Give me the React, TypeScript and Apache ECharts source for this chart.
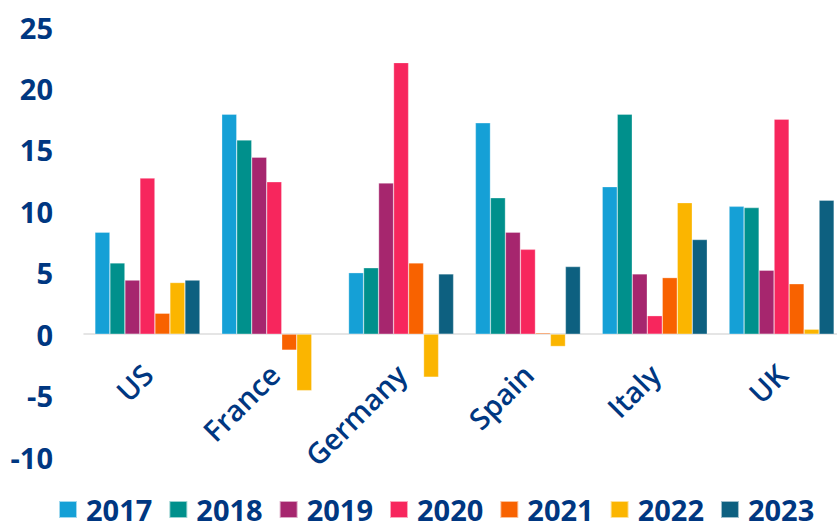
import React, { useEffect, useRef } from "react";
import * as echarts from "echarts";

const countries = ["US", "France", "Germany", "Spain", "Italy", "UK"];
const years = ["2017", "2018", "2019", "2020", "2021", "2022", "2023"];
const v2017 = [8.3, 17.9, 5.0, 17.2, 12.0, 10.4];
const v2018 = [5.8, 15.8, 5.4, 11.1, 17.9, 10.3];
const v2019 = [4.4, 14.4, 12.3, 8.3, 4.9, 5.2];
const v2020 = [12.7, 12.4, 22.1, 6.9, 1.5, 17.5];
const v2021 = [1.7, -1.3, 5.8, 0.1, 4.6, 4.1];
const v2022 = [4.2, -4.6, -3.5, -1.0, 10.7, 0.4];
const v2023 = [4.4, null, 4.9, 5.5, 7.7, 10.9];
const yTicks = [-10, -5, 0, 5, 10, 15, 20, 25];
const colors = ["#15a0d6", "#00908c", "#a6266e", "#f7265d", "#f86200", "#fbb500", "#0d6080"];

const seriesValues = [v2017, v2018, v2019, v2020, v2021, v2022, v2023];
const textColor = "#003781";
const font = "'Open Sans', Lato, 'Noto Sans', sans-serif";

export default function App() {
  const ref = useRef<HTMLDivElement>(null);
  useEffect(() => {
    if (!ref.current) return;
    const chart = echarts.init(ref.current, undefined, { renderer: "svg" });
    chart.setOption({
      animation: false,
      color: colors,
      grid: { left: 84, top: 27, width: 761, height: 430, outerBoundsMode: "none", containLabel: false },
      legend: {
        left: 58,
        top: 495,
        width: 820,
        padding: 0,
        itemWidth: 18,
        itemHeight: 17,
        itemGap: 16,
        icon: "rect",
        textStyle: {
          color: textColor,
          fontSize: 29,
          lineHeight: 27,
          fontWeight: "bold",
          fontFamily: font,
          padding: [0, 0, 0, 4],
        },
        data: years,
      },
      xAxis: {
        type: "category",
        data: countries,
        axisLine: { onZero: true, lineStyle: { color: "#dddddd", width: 1.5 } },
        axisTick: { show: false },
        axisLabel: {
          rotate: 45,
          margin: -88,
          color: textColor,
          fontSize: 29,
          fontWeight: 600,
          fontFamily: font,
          interval: 0,
        },
      },
      yAxis: {
        type: "value",
        min: yTicks[0],
        max: yTicks[yTicks.length - 1],
        interval: 5,
        splitLine: { show: false },
        axisLine: { show: false },
        axisTick: { show: false },
        axisLabel: {
          margin: 31,
          color: textColor,
          fontSize: 29,
          fontWeight: "bold",
          fontFamily: font,
        },
      },
      series: years.map((y, i) => ({
        name: y,
        type: "bar",
        data: seriesValues[i],
        barGap: "0%",
        barCategoryGap: "17.2%",
        itemStyle: { color: colors[i], borderColor: "rgba(255,255,255,0.6)", borderWidth: 0.5 },
      })),
    });
    return () => chart.dispose();
  }, []);
  return <div ref={ref} style={{ width: 837, height: 525, position: "absolute", left: 0, top: 0 }} />;
}
